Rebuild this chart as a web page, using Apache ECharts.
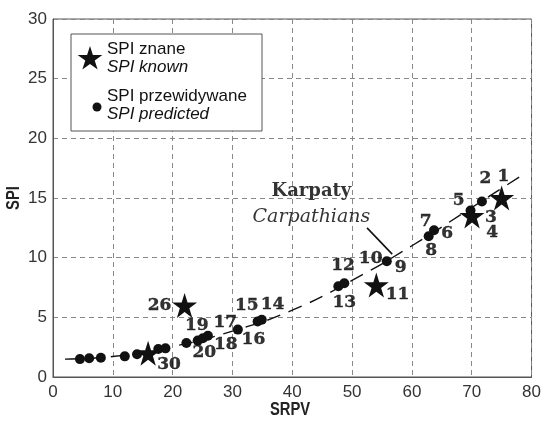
<!DOCTYPE html>
<html>
<head>
<meta charset="utf-8">
<script src="https://cdn.jsdelivr.net/npm/echarts@6/dist/echarts.min.js"></script>
<style>
html,body{margin:0;padding:0;background:#fff;}
#chart{width:544px;height:423px;}
</style>
</head>
<body>
<div id="chart"></div>
<script>
// SPI znane / SPI known (stars)
var knownX = [15.9, 22.0, 54.05, 70.05, 75.0];
var knownY = [2.0, 6.0, 7.7, 13.5, 15.0];

// SPI przewidywane / SPI predicted (dots)
var predX = [4.5, 6.05, 8.0, 12.0, 14.05, 17.6, 18.8, 22.3, 24.2, 25.05, 25.9, 30.9, 34.2, 34.9, 47.7, 48.7, 55.8, 62.8, 63.7, 69.8, 71.7];
var predY = [1.5, 1.57, 1.62, 1.73, 1.9, 2.35, 2.4, 2.85, 3.05, 3.25, 3.45, 3.97, 4.65, 4.8, 7.6, 7.85, 9.7, 11.8, 12.3, 13.95, 14.7];

// trend (dashed)
var trendX = [2, 10, 20, 30, 40, 50, 60, 70, 79];
var trendY = [1.5, 1.72, 2.55, 3.85, 5.6, 8.1, 11.0, 14.2, 17.1];

// region numbers
var numText = ['1', '2', '3', '4', '5', '6', '7', '8', '9', '10', '11', '12', '13', '14', '15', '16', '17', '18', '19', '20', '26', '30'];
var numX = [75.3, 72.3, 73.2, 73.4, 67.8, 65.9, 62.3, 63.2, 58.1, 53.1, 57.6, 48.5, 48.7, 36.7, 32.4, 33.5, 28.8, 28.9, 24.05, 25.3, 17.8, 19.4];
var numY = [16.8, 16.6, 13.4, 12.1, 14.8, 12.0, 13.0, 10.6, 9.2, 9.95, 6.9, 9.3, 6.26, 6.1, 6.0, 3.1, 4.6, 2.7, 4.3, 2.07, 6.0, 1.0];

var xTicks = [0, 80, 10];
var yTicks = [0, 30, 5];

var starPath = 'path://M50,0 L61.2,34.5 L97.6,34.5 L68.2,55.9 L79.4,90.5 L50,69.1 L20.6,90.5 L31.8,55.9 L2.4,34.5 L38.8,34.5 Z';

function zip(a, b){
	var out = [];
	for (var i = 0; i < a.length; i++) {
		out.push([a[i], b[i]]);
	}
	return out;
}
function starPoints(cx, cy, R){
	var pts = [];
	var r = R * 0.382;
	for (var i = 0; i < 10; i++) {
		var ang = -Math.PI / 2 + i * Math.PI / 5;
		var rr = i % 2 == 0 ? R : r;
		pts.push([cx + rr * Math.cos(ang), cy + rr * Math.sin(ang)]);
	}
	return pts;
}

var numData = [];
for (var i = 0; i < numText.length; i++) {
	numData.push({value: [numX[i], numY[i]], name: numText[i]});
}

var sansTick = "'Liberation Sans', Arial, sans-serif";
var serif = "'DejaVu Serif', 'Liberation Serif', serif";

var myChart = echarts.init(document.getElementById('chart'));
var option = {
	animation: false,
	backgroundColor: '#fff',
	grid: {
		left: 53,
		right: 11,
		top: 19,
		bottom: 46,
		show: true,
		borderColor: '#555',
		borderWidth: 1
	},
	xAxis: {
		type: 'value',
		min: xTicks[0],
		max: xTicks[1],
		interval: xTicks[2],
		axisLine: {lineStyle: {color: '#555'}},
		axisTick: {show: false},
		axisLabel: {fontFamily: sansTick, fontSize: 17, color: '#333', margin: 7},
		splitLine: {lineStyle: {color: '#888', type: [5, 4]}}
	},
	yAxis: {
		type: 'value',
		min: yTicks[0],
		max: yTicks[1],
		interval: yTicks[2],
		axisLine: {lineStyle: {color: '#555'}},
		axisTick: {show: false},
		axisLabel: {fontFamily: sansTick, fontSize: 17, color: '#333', margin: 6},
		splitLine: {lineStyle: {color: '#888', type: [5, 4]}}
	},
	series: [
		{
			name: 'trend',
			type: 'line',
			smooth: true,
			symbol: 'none',
			data: zip(trendX, trendY),
			lineStyle: {color: '#111', width: 1.4, type: [14, 9]},
			z: 1
		},
		{
			name: 'pointer',
			type: 'line',
			symbol: 'none',
			data: [[52.5, 12.5], [56.7, 10.3]],
			lineStyle: {color: '#111', width: 1.6},
			z: 2
		},
		{
			name: 'SPI przewidywane',
			type: 'scatter',
			symbol: 'circle',
			symbolSize: 10,
			itemStyle: {color: '#111', opacity: 1},
			data: zip(predX, predY),
			z: 3
		},
		{
			name: 'SPI znane',
			type: 'scatter',
			symbol: starPath,
			symbolSize: 25,
			itemStyle: {color: '#111', opacity: 1},
			data: zip(knownX, knownY),
			z: 4
		},
		{
			name: 'numbers',
			type: 'scatter',
			symbolSize: 0,
			data: numData,
			label: {
				show: true,
				position: 'inside',
				formatter: '{b}',
				fontFamily: serif,
				fontWeight: 'bold',
				fontSize: 17,
				color: '#000',
				textBorderColor: '#000',
				textBorderWidth: 0.4
			},
			z: 5
		},
		{
			name: 'region',
			type: 'scatter',
			symbolSize: 0,
			data: [
				{value: [43.2, 15.6], name: 'Karpaty', label: {fontWeight: 'bold', fontStyle: 'normal', fontSize: 18}},
				{value: [43.2, 13.4], name: 'Carpathians', label: {fontWeight: 'normal', fontStyle: 'italic', fontSize: 19}}
			],
			label: {
				show: true,
				position: 'inside',
				formatter: '{b}',
				fontFamily: serif,
				color: '#000'
			},
			z: 5
		}
	],
	graphic: [
		{
			type: 'text',
			x: 290, y: 410,
			scaleX: 0.82,
			style: {text: 'SRPV', font: "bold 18px 'Liberation Sans', Arial, sans-serif", fill: '#222', align: 'center', verticalAlign: 'middle'}
		},
		{
			type: 'text',
			x: 14, y: 198,
			rotation: Math.PI / 2,
			scaleX: 0.82,
			style: {text: 'SPI', font: "bold 18px 'Liberation Sans', Arial, sans-serif", fill: '#222', align: 'center', verticalAlign: 'middle'}
		},
		{
			type: 'rect',
			shape: {x: 71, y: 34, width: 191, height: 97},
			style: {fill: '#fff', stroke: '#555', lineWidth: 1},
			z: 10
		},
		{
			type: 'polygon',
			shape: {points: starPoints(90, 59, 13)},
			style: {fill: '#111'},
			z: 11
		},
		{
			type: 'circle',
			shape: {cx: 97, cy: 107, r: 4.5},
			style: {fill: '#111'},
			z: 11
		},
		{
			type: 'text',
			left: 107, top: 41,
			style: {text: 'SPI znane', font: "17px 'Liberation Sans', Arial, sans-serif", fill: '#111'},
			z: 11
		},
		{
			type: 'text',
			left: 107, top: 59,
			style: {text: 'SPI known', font: "italic 17px 'Liberation Sans', Arial, sans-serif", fill: '#111'},
			z: 11
		},
		{
			type: 'text',
			left: 107, top: 88,
			style: {text: 'SPI przewidywane', font: "17px 'Liberation Sans', Arial, sans-serif", fill: '#111'},
			z: 11
		},
		{
			type: 'text',
			left: 107, top: 106,
			style: {text: 'SPI predicted', font: "italic 17px 'Liberation Sans', Arial, sans-serif", fill: '#111'},
			z: 11
		}
	]
};
myChart.setOption(option);
</script>
</body>
</html>
